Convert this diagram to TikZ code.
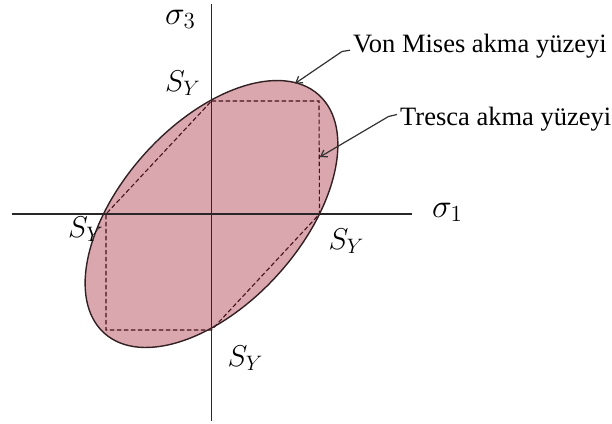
\documentclass[tikz,border=0pt]{standalone}
\usepackage{graphicx}
\usepackage{fontspec}
\setmainfont{Liberation Serif}
\usetikzlibrary{arrows.meta,calc}
\definecolor{vmfill}{RGB}{219,167,174}
\definecolor{vmedge}{RGB}{50,32,35}
\definecolor{trline}{RGB}{70,18,28}
\definecolor{axcol}{RGB}{40,40,40}
\definecolor{arcol}{RGB}{50,50,50}
\newcommand{\bigmath}[2]{\scalebox{#1}{\fontsize{20}{24}\selectfont$#2$}}
\tikzset{
  axisline/.style={draw=axcol, line width=1.1pt},
  trescaline/.style={draw=trline, line width=1.1pt, dash pattern=on 4.5pt off 2.5pt},
  vmline/.style={draw=vmedge, line width=1.4pt},
  callout/.style={draw=arcol, line width=1.2pt, -{Straight Barb[length=6pt,width=8pt,line width=1.2pt]}},
  lbl/.style={inner sep=0pt, font=\fontsize{26.5}{30}\selectfont},
  sylbl/.style={inner sep=0pt, anchor=base west},
  siglbl/.style={inner sep=0pt, anchor=base west}
}
\begin{document}
\begin{tikzpicture}[x=1pt,y=-1pt]
\useasboundingbox (0,0) rectangle (612,423);
\coordinate (O) at (211.5,214);
\coordinate (ytop) at (211.5,4);
\coordinate (ybot) at (211.5,421);
\coordinate (xl) at (12,214);
\coordinate (xr) at (412,214);
% Tresca hexagon vertices
\coordinate (A) at (211.5,101);
\coordinate (B) at (319,101);
\coordinate (C) at (319.5,214);
\coordinate (D) at (211.5,330);
\coordinate (E) at (106,330);
\coordinate (F) at (106,214);
% von Mises fill
\fill[vmfill, rotate around={48:(O)}] (O) ellipse (160.3pt and 89.9pt);
% axes
\draw[axisline] (xl) -- (xr);
\draw[axisline] (ybot) -- (ytop);
% Tresca
\draw[trescaline] (A) -- (B) -- (C) -- (D) -- (E) -- (F) -- cycle;
% von Mises outline
\draw[vmline, rotate around={48:(O)}] (O) ellipse (160.3pt and 89.9pt);
% axis labels
\node[siglbl] (s3) at (165,24) {\bigmath{1.6}{\sigma_3}};
\node[siglbl] (s1) at (432,217) {\bigmath{1.6}{\sigma_1}};
\node[sylbl] (syt) at (165,91) {\bigmath{1.45}{S_Y}};
\node[sylbl] (syl) at (68,237) {\bigmath{1.45}{S_Y}};
\node[sylbl] (syr) at (328.5,249) {\bigmath{1.45}{S_Y}};
\node[sylbl] (syb) at (227.5,366) {\bigmath{1.45}{S_Y}};
% callouts
\node[lbl, anchor=base west] (vm) at (353,52.7) {Von Mises akma yüzeyi};
\node[lbl, anchor=base west] (tr) at (400,125) {Tresca akma yüzeyi};
\coordinate (vmk) at (342,51.5);
\coordinate (vmtip) at (295,83.5);
\coordinate (trk) at (388.5,116.5);
\coordinate (trtip) at (319.8,157);
\draw[callout] ($(vm.base west)+(-3,-2.5)$) -- (vmk) -- (vmtip);
\draw[callout] ($(tr.base west)+(-3,-10.5)$) -- (trk) -- (trtip);
\end{tikzpicture}
\end{document}
